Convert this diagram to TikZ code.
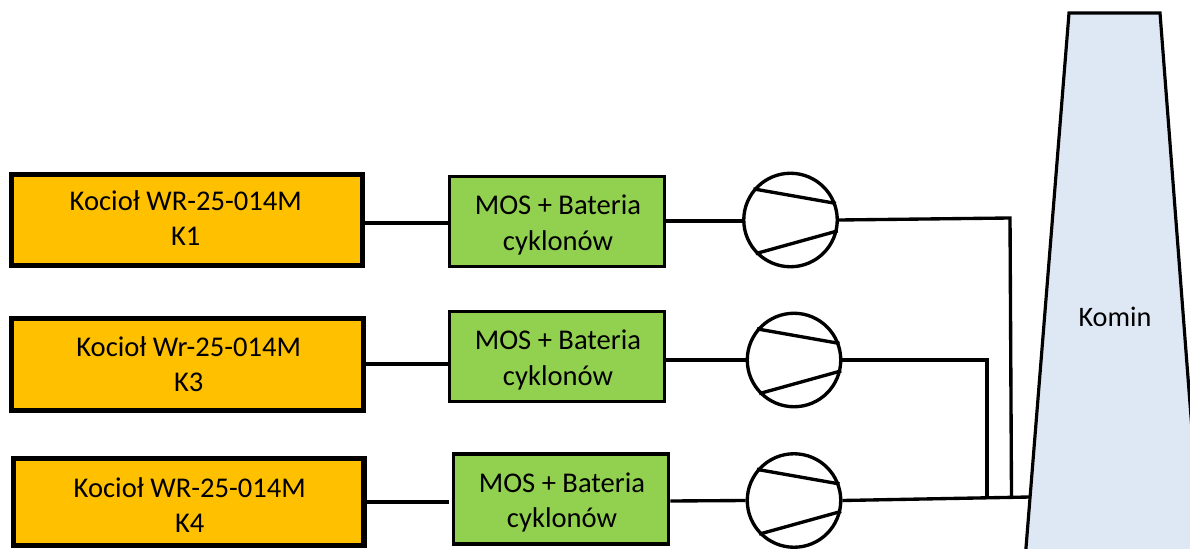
\documentclass[tikz,border=0pt]{standalone}
\usepackage{fontspec}
\setmainfont{Carlito}
\usetikzlibrary{positioning}
\definecolor{boiler}{HTML}{FFC000}
\definecolor{filter}{HTML}{92D050}
\definecolor{stack}{HTML}{DEE8F5}
\tikzset{
  boiler/.style={draw, fill=boiler, line width=2.9pt, inner sep=0pt},
  filter/.style={draw, fill=filter, line width=1.9pt, inner sep=0pt, minimum width=122pt, minimum height=51pt},
  fan/.style={draw, circle, line width=1.9pt, minimum size=53pt, inner sep=0pt},
  pipe/.style={line width=1.9pt},
  boxtext/.style={inner sep=0pt, align=center, font=\fontsize{16.2}{19.9}\selectfont},
}
\begin{document}
\begin{tikzpicture}[x=0.5669pt, y=-0.5669pt]
        \useasboundingbox (0,0) rectangle (1190,549);

        % Stack:
        \draw [fill=stack, line width=1.8pt] (1025,560) -- (1069,13) -- (1160,13) -- (1202,560);
        \node (komin) at (1115,317) {\fontsize{16}{19}\selectfont Komin};

        % Boilers:
        \node [boiler, minimum width=199pt, minimum height=51.6pt] (k1) at (186.7,220) {};
        \node [boiler, minimum width=199.8pt, minimum height=52.2pt] (k3) at (187.7,364.5) {};
        \node [boiler, minimum width=198.7pt, minimum height=49.6pt] (k4) at (188.7,502) {};
        \node [boxtext] (k1text) at (185.7,218) {Kocioł WR-25-014M\\K1};
        \node [boxtext] (k3text) at (188.7,364.5) {Kocioł Wr-25-014M\\K3};
        \node [boxtext] (k4text) at (189.7,505.5) {Kocioł WR-25-014M\\K4};

        % Filters:
        \node [filter] (mos1) at (557,221.5) {};
        \node [filter] (mos3) at (557,356.5) {};
        \node [filter] (mos4) at (561,499) {};
        \node [boxtext] (mos1text) at (558,225) {MOS + Bateria\\cyklonów};
        \node [boxtext] (mos3text) at (558,360) {MOS + Bateria\\cyklonów};
        \node [boxtext] (mos4text) at (562,502.5) {MOS + Bateria\\cyklonów};

        % Fans:
        \node [fan] (fan1) at (790.5,220) {};
        \node [fan] (fan3) at (794,360) {};
        \node [fan] (fan4) at (794,500.5) {};
        \foreach \f in {fan1,fan3,fan4}{%
        \draw [pipe] (\f.140) -- (\f.20);
        \draw [pipe] (\f.224) -- (\f.-13);
        }

        % Pipes:
        \coordinate (in4) at (1030,497);
        \coordinate (top1) at (1010,218);
        \coordinate (low1) at (1011.5,497);
        \coordinate (top3) at (987,360);
        \coordinate (low3) at (987,497);
        \draw [pipe] (k1.east |- 0,223) -- (mos1.west |- 0,223);
        \draw [pipe] (k3.east |- 0,364) -- (mos3.west |- 0,364);
        \draw [pipe, shorten >=1.5pt] (k4.east |- 0,502) -- (mos4.west |- 0,502);
        \draw [pipe] (mos1.east |- 0,221) -- (fan1.west |- 0,221);
        \draw [pipe] (mos3.east |- 0,360) -- (fan3.west);
        \draw [pipe] (mos4.east |- 0,501) -- (fan4.west);
        \draw [pipe] (fan1.east) -- (top1) -- (low1);
        \draw [pipe] (fan3.east) -- (top3) -- (low3);
        \draw [pipe] (fan4.east) -- (in4);

    \end{tikzpicture}
\end{document}
